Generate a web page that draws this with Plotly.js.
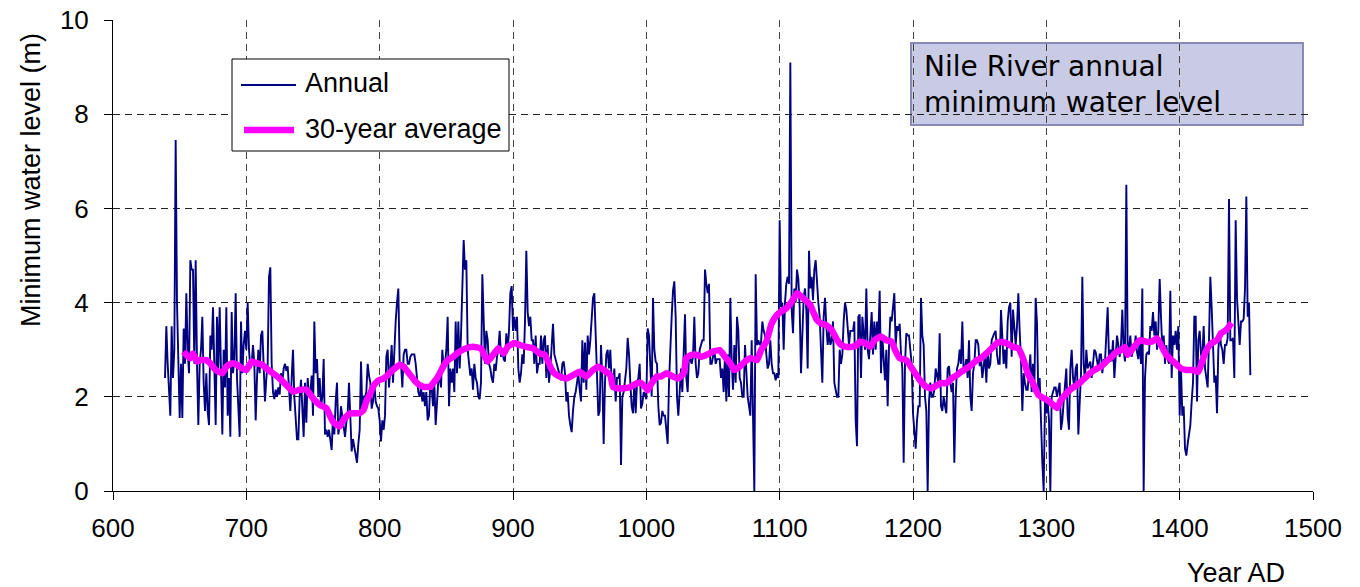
<!DOCTYPE html>
<html>
<head>
<meta charset="utf-8">
<script src="https://cdn.plot.ly/plotly-3.0.1.min.js"></script>
<style>html,body{margin:0;padding:0;background:#fff;}#chart{width:1360px;height:587px;}</style>
</head>
<body>
<div id="chart"></div>
<script>
// Annual minimum water level (m), in segments with their first year
const annualStart1 = 639;
const annual1 = [
2.4,3.5,2.7,2.2,1.6,3.5,2.4,3.0,7.45,4.0,
2.8,1.55,2.7,1.55,3.45,2.7,4.2,3.0,2.5,4.9,
4.7,4.7,2.7,4.9,2.7,1.4,2.7,3.0,3.7,2.3,
1.7,2.5,1.7,1.4,3.3,3.0,3.9,2.7,1.4,3.7,
2.6,3.9,2.3,1.2,3.0,2.2,3.9,1.6,2.4,1.15,
3.8,2.5,2.8,4.2,2.4,1.8,1.15,3.6,2.5,3.1,
3.4,3.0,4.0,3.0,2.6,2.7,3.1,2.7,1.5,2.4,
3.0,2.5,3.3,3.4,2.6,1.9,2.4,2.7,4.55,4.75,
2.7,2.1,1.95,2.15,2.0,2.2,2.05,2.5,2.3,2.6,
2.7,2.55,2.65,2.2,1.7,2.4,3.0,2.0,1.6,1.1,
1.1
];

const annualStart2 = 740;
const annual2 = [
2.0,2.36,1.6,1.15,2.3,1.45,2.4,2.0,2.1,2.45,
1.6,3.6,2.5,2.8,2.0,2.4,1.8,2.0,2.8,1.2,
1.3,1.15,1.3,1.1,0.87,1.6,1.2,1.9,2.3,1.2,
1.4,1.8,1.6,1.3,1.15,1.45,1.65,2.3,1.3,0.84,
1.1,0.95,0.8,0.6,1.0,1.3,2.75,1.7,2.0,2.0,
2.1,2.7,2.45,2.3,1.75,1.9,2.3,1.9,1.8,1.75,
1.5,1.05,1.5,1.3,1.6,2.85,3.0,2.2,2.6,3.1,
2.3,3.0,3.6,4.0,4.3,2.7,2.7,2.2,2.9,3.0,
3.0,2.7,2.7,2.85,2.9,2.9,2.9,2.7,2.3,2.1,
2.0,2.2,1.9,2.1,1.8,2.1,1.5,1.6,2.3,2.2,
1.8,2.3,1.4,2.0,2.35
];

const annualStart3 = 845;
const annual3 = [
2.4,2.2,3.0,2.6,2.7,3.0,3.7,1.8,2.6,2.3,
2.6,2.1,3.6,2.5,3.6,2.6,3.3,4.7,5.33,4.7,
4.9,3.0,2.7,2.45,2.6,2.15,2.7,2.4,2.3,2.0,
1.95,2.3,4.6,3.6,2.7,3.4,3.2,2.7,2.6,2.4,
2.3,2.7,2.55,2.85,3.0,3.4,2.85,3.0,2.8,2.75,
3.35,3.0,3.4,4.2,4.35,3.4,3.7,3.4,3.7,2.6,
2.3,2.5,2.9,2.7,3.6,5.1,3.8,3.5,3.7,3.2,
3.2,2.7,3.3,2.5,2.7,2.7,3.3,2.7,3.2,3.3,
2.4,3.1,2.3,2.6,3.1,3.55,2.9,2.8,2.7,2.6,
2.5,2.35,2.7,2.75,2.5,1.9,2.1,1.6,1.4,1.25,
1.7,2.0,2.1,2.3,2.5
];

const annualStart4 = 950;
const annual4 = [
2.15,1.9,3.2,2.3,3.15,2.15,3.3,2.9,3.2,3.7,
4.1,4.2,3.3,2.2,1.6,1.7,3.1,2.4,1.0,2.3,
2.9,3.0,2.6,3.0,2.3,2.25,2.6,1.9,2.4,2.4,
2.5,0.55,2.0,2.1,2.3,2.6,3.25,2.9,2.3,1.8,
1.65,2.3,1.65,2.3,2.4,2.7,1.75,1.85,2.1,2.05,
1.95,3.45,3.3,2.4,2.0,4.1,3.0,2.75,2.7,1.8,
1.4,1.45,1.7,1.6,1.6,1.3,1.0,2.3,3.1,3.7,
4.25,4.45,3.7,2.0,1.6,2.0,2.6,2.1,3.0,3.75,
2.4,2.1,2.9,2.8,2.7,2.85,3.7,2.7,2.4,2.5,
3.0,3.1,3.2,3.2,4.7,4.4,4.2,4.4,2.7,2.7,
2.9,3.0,2.7,2.8,2.8
];

const annualStart5 = 1055;
const annual5 = [
2.8,2.4,2.6,2.1,2.9,1.9,2.9,2.0,4.1,2.8,
2.15,3.1,2.3,3.7,3.4,2.4,2.3,2.0,2.0,3.1,
2.4,2.0,1.8,1.6,3.2,1.8,0.0,4.6,3.1,3.2,
3.1,3.15,3.6,3.4,3.3,2.9,2.6,2.7,3.2,2.7,
2.5,2.5,2.35,2.5,2.4,5.75,3.9,4.0,3.0,4.0,
4.4,4.55,4.4,9.1,3.85,3.35,4.3,4.0,4.7,4.5,
3.9,2.5,3.4,4.1,4.3,3.85,2.6,5.1,4.3,4.55,
4.05,4.7,4.9,4.3,4.0,3.7,2.9,2.3,3.7,4.1,
3.5,3.1,3.4,3.1,3.2,3.6,2.3,2.1,2.0,2.0,
3.0,2.7,2.9,3.6,4.0,3.85,3.4,3.1,3.4,3.4,
3.4,3.6,1.5,0.95,3.7
];

const annualStart6 = 1160;
const annual6 = [
3.75,2.4,3.7,3.3,3.0,4.3,3.0,2.8,3.3,3.8,
2.9,3.6,3.0,3.6,3.3,4.25,2.5,3.3,2.8,2.35,
3.0,1.8,3.05,3.7,3.6,3.85,4.2,3.1,3.5,3.4,
3.55,2.9,2.6,0.6,2.7,3.35,3.3,3.3,2.9,2.7,
1.65,1.2,0.9,1.5,1.8,1.8,4.1,3.3,3.1,2.0,
1.7,0.0,1.9,2.3,2.0,2.0,2.15,2.6,2.4,2.3,
3.35,1.8,1.7,2.0,1.8,1.65,2.6,2.65,2.3,2.1,
2.3,0.6,2.0,2.6,2.7,3.0,2.7,3.6,2.5,2.6,
2.8,2.4,3.2,2.0,1.7,2.5,2.7,3.2,3.2,3.1,
2.65,2.8,2.4,2.6,2.9,2.3,3.0,2.6,2.7,3.2,
3.3,3.35,3.4,2.9,2.7
];

const annualStart7 = 1265;
const annual7 = [
2.7,3.84,3.25,2.7,3.0,2.6,3.6,3.9,4.0,2.85,
3.85,3.4,3.1,3.5,4.2,3.4,2.8,1.7,2.5,2.3,
2.15,2.15,2.6,2.9,2.1,2.7,2.1,4.1,3.55,2.0,
2.4,1.2,0.6,0.0,1.9,1.65,1.9,1.5,0.0,2.0,
2.1,2.2,2.2,2.0,2.15,2.3,1.3,1.5,1.9,2.3,
2.6,1.6,1.3,2.6,3.0,2.4,2.2,2.6,2.7,1.2,
2.0,2.5,4.55,2.7,2.35,3.0,2.6,2.7,2.75,2.4,
2.8,3.0,2.95,2.75,2.6,2.9,2.9,2.5,2.8,2.75,
3.4,3.9,2.8,3.0,2.75,3.2,2.4,3.0,3.3,3.1,
2.85,3.1,3.85,3.0,2.75,6.5,3.0,3.0,3.3,2.85,
3.0,3.0,3.3,2.95,2.8
];

const annualStart8 = 1370;
const annual8 = [
3.2,2.7,4.3,0.0,2.4,2.9,2.95,2.9,3.5,3.4,
3.8,3.3,3.6,3.0,3.4,4.5,3.7,3.0,3.3,2.7,
3.1,2.8,2.7,4.25,2.4,3.3,3.1,3.4,3.0,3.5,
1.6,2.6,1.6,1.8,0.9,0.75,1.0,1.2,1.4,1.9,
2.3,3.7,3.7,1.9,3.2,3.4,2.9,2.8,3.5,2.6,
2.4,2.2,3.2,4.55,3.9,3.1,2.3,2.45,1.65,3.0,
3.4,3.1,3.0,2.7,3.1,3.1,3.25,6.2,3.2,3.2,
3.25,2.4,5.75,4.1,3.7,3.1,3.6,3.6,3.65,4.3,
6.25,3.7,4.0,2.46
];

// 30-year average
const avgYears = [653,655,658,660,663,665,670,673,677,682,685,689,693,697,700,704,708,712,715,720,725,730,735,740,745,750,755,760,763,765,768,770,772,775,778,782,785,788,790,793,795,798,800,803,806,810,813,815,818,820,823,825,828,830,833,835,838,840,843,845,850,855,860,865,870,876,879,881,885,889,893,896,901,905,910,915,920,924,928,931,935,940,945,950,955,960,964,968,973,975,979,983,988,993,996,999,1001,1004,1008,1011,1015,1020,1024,1028,1030,1034,1038,1041,1045,1050,1055,1059,1063,1066,1070,1074,1078,1083,1086,1090,1094,1098,1101,1105,1109,1113,1115,1119,1123,1125,1128,1131,1135,1139,1143,1146,1150,1154,1158,1160,1164,1168,1171,1176,1180,1184,1186,1190,1195,1200,1205,1210,1214,1218,1221,1225,1229,1233,1236,1240,1244,1248,1251,1255,1259,1263,1265,1270,1275,1279,1283,1286,1290,1294,1298,1301,1305,1308,1311,1315,1319,1323,1326,1330,1334,1338,1341,1345,1349,1353,1356,1359,1361,1365,1370,1375,1379,1383,1386,1390,1394,1398,1401,1405,1410,1414,1416,1420,1424,1428,1431,1435,1439];
const avgLevel = [2.96,2.89,2.82,2.92,2.75,2.78,2.78,2.71,2.57,2.5,2.64,2.71,2.68,2.6,2.57,2.75,2.71,2.68,2.6,2.5,2.39,2.25,2.11,2.15,2.15,1.97,1.83,1.76,1.58,1.47,1.40,1.37,1.47,1.58,1.65,1.65,1.65,1.72,1.9,2.07,2.21,2.32,2.36,2.39,2.46,2.57,2.64,2.68,2.64,2.57,2.46,2.39,2.29,2.25,2.21,2.21,2.21,2.29,2.39,2.5,2.75,2.85,2.96,3.03,3.06,3.03,2.85,2.75,2.89,3.03,2.92,3.06,3.14,3.1,3.06,3.03,2.92,2.89,2.64,2.5,2.43,2.39,2.46,2.53,2.43,2.57,2.64,2.57,2.46,2.21,2.18,2.18,2.21,2.29,2.29,2.21,2.14,2.29,2.43,2.43,2.5,2.43,2.39,2.5,2.82,2.89,2.89,2.85,2.89,2.96,2.99,2.85,2.71,2.57,2.64,2.75,2.82,2.78,2.99,3.17,3.56,3.74,3.81,3.88,4.02,4.2,4.16,4.06,3.95,3.81,3.63,3.56,3.52,3.42,3.21,3.1,3.06,3.06,3.1,3.17,3.14,3.06,3.2,3.28,3.2,3.17,3.03,2.82,2.78,2.57,2.36,2.21,2.18,2.25,2.29,2.29,2.39,2.46,2.53,2.6,2.68,2.78,2.82,2.92,3.03,3.14,3.17,3.14,3.06,3.03,2.78,2.5,2.29,2.04,1.97,1.93,1.83,1.76,1.93,2.07,2.18,2.25,2.32,2.43,2.53,2.6,2.64,2.75,2.85,2.96,2.99,3.06,2.89,3.03,3.2,3.17,3.17,3.24,3.1,2.89,2.78,2.68,2.6,2.57,2.57,2.53,2.68,2.99,3.14,3.2,3.35,3.42,3.57];

const xTicks = [600,700,800,900,1000,1100,1200,1300,1400,1500];
const yTicks = [0,2,4,6,8,10];
const legendNames = ['Annual','30-year average'];
const boxTitle = 'Nile River annual<br>minimum water level';
const xTitle = 'Year AD';
const yTitle = 'Minimum water level (m)';

const segments = [
  [annualStart1, annual1],[annualStart2, annual2],[annualStart3, annual3],[annualStart4, annual4],
  [annualStart5, annual5],[annualStart6, annual6],[annualStart7, annual7],[annualStart8, annual8]
];
const annualYears = [], annualLevel = [];
segments.forEach(([s, arr]) => arr.forEach((v, i) => { annualYears.push(s + i); annualLevel.push(v); }));

// pixel helpers for the decoration (plot area 113..1313 x 20..491)
const L = 113, R = 1313, T = 20, B = 491;
const px = x => (x - L) / (R - L);
const py = y => (B - y) / (B - T);

const FONT = 'Liberation Sans, Arial, sans-serif';
const NAVY = '#000080', MAG = '#ff00ff';

const traces = [
  {x: annualYears, y: annualLevel, type: 'scatter', mode: 'lines', name: legendNames[0],
   line: {color: NAVY, width: 1.9}, showlegend: false, hoverinfo: 'skip'},
  {x: avgYears, y: avgLevel, type: 'scatter', mode: 'lines', name: legendNames[1],
   line: {color: MAG, width: 6.5, shape: 'spline', smoothing: 0.4}, showlegend: false, hoverinfo: 'skip'}
];

const layout = {
  width: 1360, height: 587,
  margin: {l: L, r: 1360 - R, t: T, b: 587 - B, pad: 0},
  paper_bgcolor: '#fff', plot_bgcolor: '#fff',
  font: {family: FONT, size: 26, color: '#000'},
  xaxis: {range: [600, 1500], tickvals: xTicks, ticktext: xTicks.map(String),
    showline: true, linecolor: '#000', linewidth: 1, ticks: 'outside', ticklen: 8, tickcolor: '#000',
    showgrid: true, gridcolor: '#444', gridwidth: 1, griddash: '7px,5px', zeroline: false,
    tickfont: {size: 26, family: FONT}, ticklabelstandoff: 6, fixedrange: true},
  yaxis: {range: [0, 10], tickvals: yTicks, ticktext: yTicks.map(String),
    showline: true, linecolor: '#000', linewidth: 1, ticks: 'outside', ticklen: 8, tickcolor: '#000',
    showgrid: true, gridcolor: '#222', gridwidth: 1, griddash: '7px,5px', zeroline: false,
    tickfont: {size: 26, family: FONT}, ticklabelstandoff: 10, fixedrange: true},
  shapes: [
    {type: 'rect', xref: 'paper', yref: 'paper', x0: px(911), x1: px(1303), y0: py(125), y1: py(43),
     fillcolor: '#c9cae3', line: {color: '#8a8ab8', width: 2}, layer: 'below'},
    {type: 'rect', xref: 'paper', yref: 'paper', x0: px(232), x1: px(509), y0: py(151), y1: py(59),
     fillcolor: '#fff', line: {color: '#000', width: 1}, layer: 'above'},
    {type: 'line', xref: 'paper', yref: 'paper', x0: px(241), x1: px(296), y0: py(85), y1: py(85),
     line: {color: NAVY, width: 2}, layer: 'above'},
    {type: 'line', xref: 'paper', yref: 'paper', x0: px(244), x1: px(294), y0: py(130), y1: py(130),
     line: {color: MAG, width: 6.5}, layer: 'above'}
  ],
  annotations: [
    {xref: 'paper', yref: 'paper', x: px(303), y: py(83), xanchor: 'left', yanchor: 'middle',
     text: legendNames[0], showarrow: false, font: {size: 27, family: FONT}},
    {xref: 'paper', yref: 'paper', x: px(303), y: py(129), xanchor: 'left', yanchor: 'middle',
     text: legendNames[1], showarrow: false, font: {size: 27, family: FONT}},
    {xref: 'paper', yref: 'paper', x: px(922), y: py(85), xanchor: 'left', yanchor: 'middle', align: 'left',
     text: boxTitle, showarrow: false, font: {size: 28, family: 'DejaVu Sans, Verdana, sans-serif'}},
    {xref: 'paper', yref: 'paper', x: px(1236), y: py(573), xanchor: 'center', yanchor: 'middle',
     text: xTitle, showarrow: false, font: {size: 27, family: FONT}},
    {xref: 'paper', yref: 'paper', x: px(31), y: py(180), xanchor: 'center', yanchor: 'middle', textangle: -90,
     text: yTitle, showarrow: false, font: {size: 27, family: FONT}}
  ]
};

Plotly.newPlot('chart', traces, layout, {staticPlot: true, displayModeBar: false});
</script>
</body>
</html>
